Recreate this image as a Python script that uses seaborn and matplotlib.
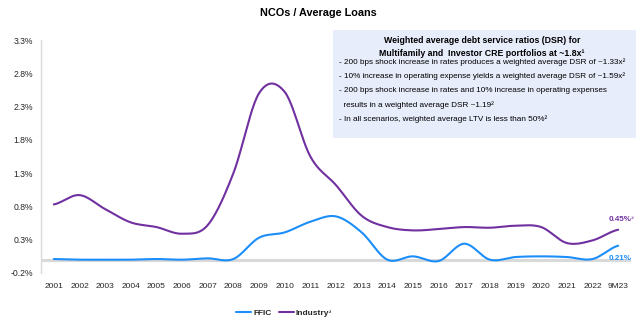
import numpy as np
import pandas as pd
import matplotlib
matplotlib.use("Agg")
import matplotlib.pyplot as plt
from matplotlib.patches import Rectangle
import seaborn as sns

years = ["2001", "2002", "2003", "2004", "2005", "2006", "2007", "2008", "2009", "2010",
         "2011", "2012", "2013", "2014", "2015", "2016", "2017", "2018", "2019", "2020",
         "2021", "2022", "9M23"]
ffic = [0.01, 0.00, 0.00, 0.00, 0.01, 0.00, 0.02, 0.01, 0.33, 0.41, 0.57, 0.65, 0.41,
        0.00, 0.05, -0.02, 0.24, 0.00, 0.04, 0.05, 0.04, 0.01, 0.21]
industry = [0.83, 0.97, 0.76, 0.56, 0.49, 0.39, 0.52, 1.30, 2.50, 2.52, 1.55, 1.12, 0.66,
            0.49, 0.44, 0.46, 0.49, 0.48, 0.51, 0.49, 0.25, 0.29, 0.45]
yticks = [-0.2, 0.3, 0.8, 1.3, 1.8, 2.3, 2.8, 3.3]
series_names = ["FFIC", "Industry³"]
colors = {"FFIC": "#1C8EF9", "Industry³": "#7030A0"}
end_labels = ["0.21%", "0.45%³"]

title = "NCOs / Average Loans"
box_title = ["Weighted average debt service ratios (DSR) for",
             "Multifamily and  Investor CRE portfolios at ~1.8x¹"]
box_lines = ["- 200 bps shock increase in rates produces a weighted average DSR of ~1.33x²",
             "- 10% increase in operating expense yields a weighted average DSR of ~1.59x²",
             "- 200 bps shock increase in rates and 10% increase in operating expenses",
             "  results in a weighted average DSR ~1.19²",
             "- In all scenarios, weighted average LTV is less than 50%²"]


def smooth(vals, n=24):
    """Catmull-Rom smoothing (like Excel's smoothed line) for display."""
    p = np.asarray(vals, dtype=float)
    pts = np.concatenate([[p[0]], p, [p[-1]]])
    xs, ys = [], []
    for i in range(len(p) - 1):
        p0, p1, p2, p3 = pts[i], pts[i + 1], pts[i + 2], pts[i + 3]
        t = np.linspace(0, 1, n, endpoint=False)
        y = 0.5 * ((2 * p1) + (-p0 + p2) * t + (2 * p0 - 5 * p1 + 4 * p2 - p3) * t ** 2
                   + (-p0 + 3 * p1 - 3 * p2 + p3) * t ** 3)
        xs.extend(i + t)
        ys.extend(y)
    xs.append(len(p) - 1)
    ys.append(p[-1])
    return np.array(xs), np.array(ys)


frames = []
for name, vals in zip(series_names, [ffic, industry]):
    xs, ys = smooth(vals)
    frames.append(pd.DataFrame({"x": xs, "value": ys, "series": name}))
df = pd.concat(frames, ignore_index=True)

sns.set_theme(style="white")
FONT = ["Liberation Sans Narrow", "Liberation Sans", "DejaVu Sans"]
plt.rcParams["font.family"] = FONT

fig = plt.figure(figsize=(6.4, 3.21), dpi=100)
W, H = 640, 321


def fx(x):
    return x / W


def fy(y):
    return 1 - y / H


ax = fig.add_axes([fx(41), fy(273), fx(631) - fx(41), fy(40) - fy(273)])

ax.axhline(0, color="#D9D9D9", lw=2.2, zorder=1)
sns.lineplot(data=df, x="x", y="value", hue="series", palette=colors,
             hue_order=series_names, lw=1.5, ax=ax, zorder=3, sort=False,
             estimator=None)

ax.set_xlim(-0.5, len(years) - 0.5)
ax.set_ylim(-0.2, 3.3)
ax.set_xticks(range(len(years)))
ax.set_xticklabels(years, fontsize=6, color="#262626")
ax.set_yticks(yticks)
ax.set_yticklabels([f"{v:.1f}%" for v in yticks], fontsize=6.2, color="#262626")
ax.tick_params(axis="both", length=0)
ax.tick_params(axis="y", pad=6)
ax.tick_params(axis="x", pad=7)
ax.set_xlabel("")
ax.set_ylabel("")
for s in ["top", "right", "bottom"]:
    ax.spines[s].set_visible(False)
ax.spines["left"].set_color("#D9D9D9")
ax.spines["left"].set_linewidth(1)

# end labels
ax.text(21.62, 0.61, end_labels[1], color="#7030A0", fontsize=5.8, fontweight="bold",
        ha="left", va="center")
ax.text(21.62, 0.015, end_labels[0], color="#1C8EF9", fontsize=5.8, fontweight="bold",
        ha="left", va="center")

# legend
handles, labels = ax.get_legend_handles_labels()
ax.legend(handles, series_names, loc="center", bbox_to_anchor=(fx(284), fy(313)),
          bbox_transform=fig.transFigure, ncol=2, frameon=False,
          handlelength=1.8, handletextpad=0.2, columnspacing=0.9,
          prop={"family": FONT, "weight": "bold", "size": 6})

# title
fig.text(fx(318), fy(13), title, ha="center", va="center", fontsize=7.8,
         fontweight="bold", color="#000000")

# info box
fig.patches.append(Rectangle((fx(333), fy(138)), fx(636) - fx(333), fy(30) - fy(138),
                             transform=fig.transFigure, facecolor="#E7EDFB",
                             edgecolor="none", zorder=0))
fig.text(fx(482), fy(40.5), box_title[0], ha="center", va="center", fontsize=6.3,
         fontweight="bold", color="#000000")
fig.text(fx(482), fy(53), box_title[1], ha="center", va="center", fontsize=6.3,
         fontweight="bold", color="#000000")
for i, line in enumerate(box_lines):
    fig.text(fx(339), fy(62 + i * 14.4), line, ha="left", va="center", fontsize=5.85,
             color="#000000")

fig.savefig("out.png", dpi=100)
